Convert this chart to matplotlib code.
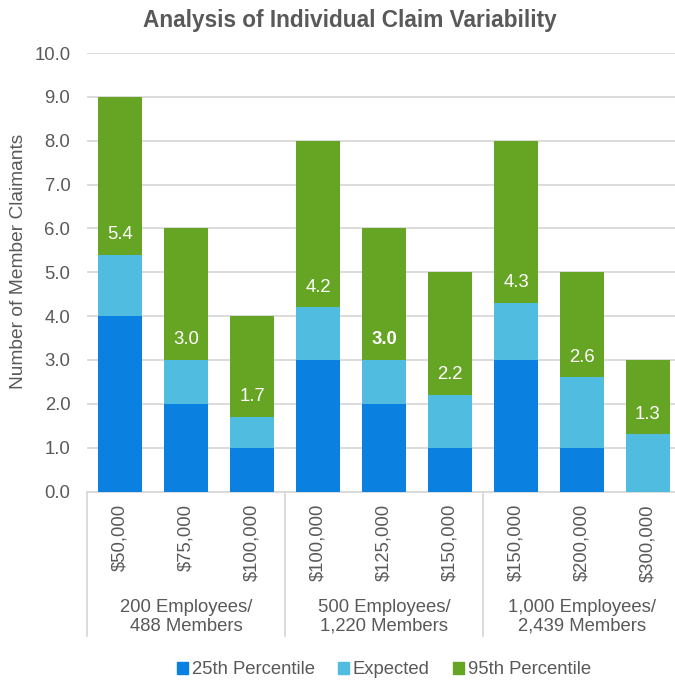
import matplotlib
matplotlib.use("Agg")
import matplotlib.pyplot as plt
from matplotlib.patches import Patch
from matplotlib.lines import Line2D
import matplotlib.transforms as mtransforms

plt.rcParams['font.family'] = ['Liberation Sans', 'DejaVu Sans']

categories = ["$50,000", "$75,000", "$100,000",
              "$100,000", "$125,000", "$150,000",
              "$150,000", "$200,000", "$300,000"]
groups = ["200 Employees/\n488 Members",
          "500 Employees/\n1,220 Members",
          "1,000 Employees/\n2,439 Members"]
p25 = [4.0, 2.0, 1.0, 3.0, 2.0, 1.0, 3.0, 1.0, 0.0]
expected = [5.4, 3.0, 1.7, 4.2, 3.0, 2.2, 4.3, 2.6, 1.3]
p95 = [9.0, 6.0, 4.0, 8.0, 6.0, 5.0, 8.0, 5.0, 3.0]
series_names = ["25th Percentile", "Expected", "95th Percentile"]
yticks = [0, 1, 2, 3, 4, 5, 6, 7, 8, 9, 10]

c25 = "#0A80E0"
cexp = "#50BCE0"
c95 = "#66A524"
txt = "#595959"
grid = "#D9D9D9"
fs = 13.3

W, H = 675, 682
fig = plt.figure(figsize=(W / 100, H / 100), dpi=100)
left, right = 87 / W, 681 / W
bottom, top = (H - 491.5) / H, (H - 53) / H
ax = fig.add_axes([left, bottom, right - left, top - bottom])

x = list(range(len(categories)))
bw = 44 / 66
ax.bar(x, p25, width=bw, color=c25, zorder=3)
ax.bar(x, [e - a for e, a in zip(expected, p25)], bottom=p25, width=bw, color=cexp, zorder=3)
ax.bar(x, [p - e for p, e in zip(p95, expected)], bottom=expected, width=bw, color=c95, zorder=3)

for i, e in enumerate(expected):
    ax.annotate(f"{e:.1f}", (i, e), xytext=(0, 14.5), textcoords="offset points",
                ha="center", va="center", color="white", fontsize=fs,
                fontweight="bold" if i == 4 else "normal", zorder=4)

ax.set_xlim(-0.5, len(categories) - 0.5)
ax.set_ylim(0, 10)
ax.set_yticks(yticks)
ax.set_yticklabels([f"{v:.1f}" for v in yticks])
ax.yaxis.grid(True, color=grid, linewidth=1.3, zorder=0)
ax.set_axisbelow(True)
for s in ["top", "right", "left"]:
    ax.spines[s].set_visible(False)
ax.spines["bottom"].set_color(grid)
ax.spines["bottom"].set_linewidth(1.3)
ax.tick_params(axis="y", length=0, pad=12, labelsize=fs, labelcolor=txt)
ax.set_xticks(x)
ax.set_xticklabels(categories, rotation=90, va="top")
ax.tick_params(axis="x", length=0, pad=9, labelsize=fs, labelcolor=txt)
ax.set_ylabel("Number of Member Claimants", fontsize=13.8, color=txt)
ax.yaxis.set_label_coords(-(87 - 27) / 594, (491.5 - 261) / 438.5)

trans = mtransforms.blended_transform_factory(ax.transData, ax.transAxes)
ax_h = 491.5 - 53
for b in [-0.5, 2.5, 5.5, 8.5]:
    ax.add_line(Line2D([b, b], [0, -(636 - 491.5) / ax_h], transform=trans,
                       color=grid, linewidth=1.3, clip_on=False))
for gi, g in enumerate(groups):
    ax.text(gi * 3 + 1, -(617 - 491.5) / ax_h, g, transform=trans, ha="center",
            va="center", fontsize=fs, color=txt, linespacing=1.15)

fig.text(350 / W, (H - 21) / H, "Analysis of Individual Claim Variability",
         ha="center", va="center", fontsize=16.3, fontweight="bold", color=txt)

handles = [Patch(color=c25), Patch(color=cexp), Patch(color=c95)]
fig.legend(handles, series_names, loc="center", bbox_to_anchor=(384 / W, (H - 670) / H),
           ncol=3, frameon=False, fontsize=fs, handlelength=0.6, handleheight=0.6,
           handletextpad=0.2, columnspacing=1.25, labelcolor=txt)

fig.savefig("out.png", dpi=100)
